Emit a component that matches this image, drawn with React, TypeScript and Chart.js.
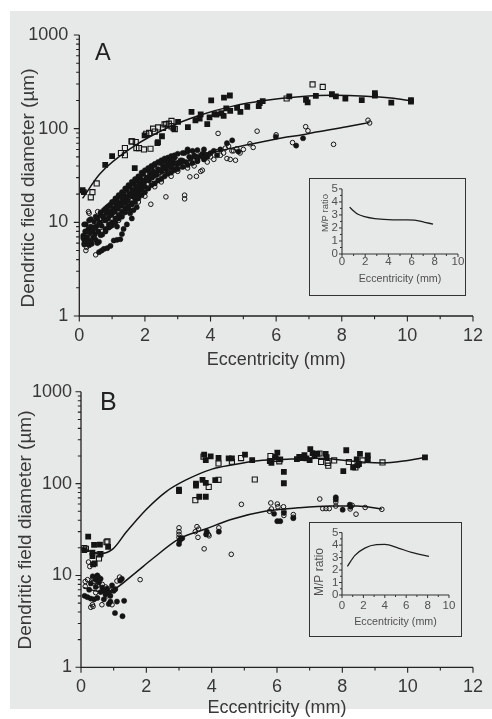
import React, { useEffect, useRef } from 'react';
import { Chart, registerables } from 'chart.js';
Chart.register(...registerables);

type P = [number, number];

// ---------------- Panel A data ----------------
const aFilledSquares: P[] = [
  [0.10, 22], [0.14, 21], [0.79, 41], [1.0, 51], [1.69, 38], [1.99, 85], [2.38, 70], [2.40, 72], [2.52, 83],
  [2.87, 101], [3.01, 118], [3.31, 104], [3.42, 151], [3.54, 123], [3.67, 128], [3.70, 142], [3.90, 112],
  [3.97, 132], [4.02, 200], [4.12, 143], [4.18, 141], [4.33, 146], [4.40, 137], [4.41, 215], [4.48, 165],
  [4.59, 226], [4.60, 155], [4.81, 167], [4.91, 151], [5.12, 171], [5.47, 174], [5.50, 188], [5.59, 197],
  [6.40, 221], [6.91, 203], [6.96, 191], [7.21, 224], [7.70, 233], [7.82, 221], [8.11, 210], [8.61, 202],
  [9.01, 240], [9.01, 225], [9.51, 190], [10.11, 202], [10.11, 195],
];
const aOpenSquares: P[] = [
  [0.40, 21], [0.35, 18.5], [0.53, 26], [1.27, 55], [1.39, 62], [1.39, 52], [1.59, 73], [1.61, 73], [1.72, 72],
  [1.74, 62], [1.82, 62], [1.97, 60], [2.04, 88], [2.13, 90], [2.17, 61], [2.25, 100], [2.30, 93], [2.40, 103],
  [2.55, 102], [2.60, 111], [2.65, 112], [2.73, 113], [2.81, 121], [2.81, 106], [2.91, 99], [6.32, 210],
  [7.11, 297], [7.42, 279],
];
const aFilledCircles: P[] = [
  [0.12, 7.2], [0.15, 6.5], [0.18, 8.0], [0.2, 9.5], [0.22, 7.0], [0.25, 6.0], [0.28, 8.5], [0.3, 10.5],
  [0.32, 7.8], [0.35, 9.0], [0.12, 6.8], [0.28, 6.5], [0.4, 8.2], [0.42, 6.9], [0.45, 10.2], [0.48, 7.5],
  [0.5, 9.0], [0.55, 11], [0.58, 8.0], [0.6, 6.2], [0.62, 10], [0.65, 12], [0.68, 9.2], [0.7, 7.4],
  [0.72, 11.5], [0.75, 13.5], [0.78, 10.5], [0.8, 8.5], [0.82, 12.5], [0.85, 14.5], [0.88, 11], [0.9, 9.5],
  [0.92, 13], [0.95, 15.5], [0.98, 12], [1.0, 10], [1.02, 14], [1.05, 16.5], [1.08, 13], [1.1, 11],
  [1.12, 15], [1.15, 17.5], [1.18, 14], [1.2, 12], [1.22, 16], [1.25, 19], [1.28, 15], [1.3, 13],
  [1.32, 17.5], [1.35, 20], [1.38, 16], [1.4, 14], [1.42, 18.5], [1.45, 22], [1.48, 17], [1.5, 15],
  [1.52, 20], [1.55, 24], [1.58, 19], [1.6, 16], [1.62, 22], [1.65, 26], [1.68, 20], [1.7, 18],
  [1.72, 24], [1.75, 28], [1.78, 22], [1.8, 20], [1.82, 26], [1.85, 30], [1.88, 24], [1.9, 22],
  [1.92, 28], [1.95, 33], [1.98, 27], [2.0, 24], [2.05, 30], [2.1, 36], [2.12, 28], [2.15, 33],
  [2.2, 39], [2.22, 30], [2.25, 35], [2.3, 41], [2.35, 32], [2.4, 37], [2.45, 43], [2.5, 35],
  [2.55, 40], [2.6, 45], [2.65, 37], [2.7, 42], [2.75, 47], [2.8, 39], [2.85, 44], [2.9, 49],
  [3.0, 42], [3.1, 46], [3.2, 55], [3.25, 44], [3.35, 50], [3.5, 52], [3.6, 47], [3.75, 54],
  [3.9, 50], [4.1, 58], [4.3, 60], [4.66, 75], [5.99, 82], [6.61, 66], [6.82, 79], [4.85, 57],
  [0.6, 4.8], [0.68, 5.0], [0.75, 5.2], [0.85, 5.3], [0.95, 5.6], [1.05, 6.4], [1.15, 6.5], [1.25, 6.6],
  [0.3, 5.7], [0.38, 5.9], [1.35, 8.5], [1.45, 9.5], [1.3, 7.5], [0.55, 6.0], [0.2, 5.9], [1.15, 9.0],
  [1.55, 12.5], [1.65, 13.5], [1.75, 14.5], [1.6, 11], [4.5, 70], [4.0, 55], [4.2, 52], [3.3, 60],
  // upper and lower edges of the dense band
  [0.15, 9.5], [0.15, 5.8], [0.35, 10.8], [0.35, 6.2], [0.5, 11.5], [0.5, 6.5], [0.65, 12.8], [0.65, 7.3],
  [0.8, 14], [0.8, 8], [0.9, 15], [0.9, 8.8], [1.0, 16.5], [1.0, 9.3], [1.1, 18], [1.1, 10],
  [1.2, 19.5], [1.2, 11], [1.3, 21], [1.3, 11.5], [1.4, 23], [1.4, 12.8], [1.5, 25], [1.5, 14],
  [1.6, 27], [1.6, 15.5], [1.7, 29], [1.7, 16.5], [1.8, 31], [1.8, 18], [1.9, 34], [1.9, 19.5],
  [2.0, 36], [2.0, 21], [2.1, 38], [2.1, 23], [2.2, 40], [2.2, 25], [2.3, 42], [2.3, 26],
  [2.4, 44], [2.4, 28], [2.5, 46], [2.5, 29], [2.6, 48], [2.6, 31], [2.7, 49], [2.7, 33],
  [2.8, 51], [2.8, 34], [2.9, 52], [2.9, 36], [3.0, 54], [3.0, 37], [3.15, 55], [3.15, 39],
  [3.3, 57], [3.3, 41], [3.45, 58], [3.45, 43], [3.6, 59], [3.6, 45], [3.8, 60], [3.8, 47],
  // band centre
  [0.25, 8], [0.45, 8.8], [0.6, 9.5], [0.75, 11], [0.95, 12], [1.05, 13], [1.15, 14.5], [1.25, 15.5],
  [1.35, 17], [1.45, 18.5], [1.55, 20], [1.65, 21.5], [1.75, 23], [1.85, 25], [1.95, 27], [2.05, 29],
  [2.15, 31], [2.25, 32.5], [2.35, 34], [2.45, 36], [2.55, 37.5], [2.65, 39], [2.75, 40.5], [2.85, 42],
  [2.95, 43], [3.05, 44], [3.15, 45.5], [3.4, 48], [3.55, 50], [3.7, 51], [3.85, 53],
];
const aOpenCircles: P[] = [
  [0.15, 6.0], [0.2, 5.0], [0.22, 5.4], [0.3, 12.5], [0.28, 13.0], [0.56, 13], [0.5, 4.5], [0.25, 7.5],
  [0.35, 8.0], [0.45, 7.0], [0.6, 9.5], [0.7, 8.0], [0.8, 10.5], [0.95, 9.0], [1.0, 12.5], [1.1, 14],
  [1.2, 10.5], [1.3, 12], [1.4, 15.5], [1.5, 13.5], [1.6, 17], [1.7, 19], [1.8, 16.5], [1.9, 21],
  [2.0, 19], [2.1, 23], [2.18, 15.6], [2.2, 26], [2.3, 24], [2.4, 30], [2.5, 27], [2.55, 32],
  [2.64, 18.7], [2.7, 34], [2.8, 31], [2.9, 37], [3.0, 35], [3.1, 40], [3.21, 19.5], [3.21, 17.8],
  [3.3, 38], [3.37, 30.6], [3.4, 43], [3.5, 40], [3.57, 31], [3.6, 45], [3.7, 35], [3.75, 36],
  [3.8, 48], [3.9, 44], [4.0, 50], [4.1, 47], [4.23, 89], [4.2, 57], [4.3, 52], [4.4, 55],
  [4.5, 48], [4.6, 47], [4.7, 58], [4.76, 46], [4.8, 61], [4.9, 55], [5.0, 60], [5.2, 69],
  [5.3, 63], [5.42, 94], [6.0, 86], [6.5, 71], [6.9, 105], [6.97, 95], [7.75, 68], [8.8, 123],
  [8.85, 115], [4.45, 62], [4.55, 65], [4.65, 58], [3.95, 53], [3.65, 51], [2.95, 47], [2.6, 41],
  [2.3, 36], [2.0, 30], [1.75, 25], [1.45, 20], [1.2, 16], [0.9, 12], [0.65, 11],
];
const aUpperCurve: P[] = [
  [0.1, 18], [0.63, 33], [1.64, 64], [2.66, 101], [3.67, 139], [4.68, 174], [5.7, 201], [6.71, 219],
  [7.72, 227], [8.74, 222], [9.5, 212], [10.15, 197],
];
const aLowerCurve: P[] = [
  [0.1, 6], [1.0, 12.5], [2.0, 26], [3.0, 40], [3.67, 52], [4.18, 57], [5.19, 68], [6.2, 80],
  [6.81, 86], [7.22, 92], [8.23, 106], [8.84, 116],
];
const aInsetCurve: P[] = [
  [0.66, 3.6], [1.0, 3.3], [1.38, 3.05], [1.95, 2.875], [2.82, 2.72], [3.97, 2.64], [5.4, 2.62],
  [6.26, 2.6], [7.13, 2.43], [7.85, 2.3],
];

// ---------------- Panel B data ----------------
const bFilledSquares: P[] = [
  [0.22, 26.5], [0.40, 21.5], [0.58, 21.7], [0.35, 17.7], [0.35, 16.3], [0.37, 13.2], [0.42, 13.5],
  [0.6, 17.2], [0.83, 20.5], [0.1, 18.9], [3.0, 83], [3.0, 86], [3.52, 100], [3.52, 95], [3.72, 110],
  [3.82, 102], [3.62, 72], [3.82, 72], [4.11, 109], [3.77, 207], [3.82, 180], [3.97, 198], [4.21, 191],
  [4.52, 188], [4.62, 188], [5.02, 207], [5.24, 180], [5.78, 176], [5.83, 168], [6.01, 218], [5.95, 196],
  [6.1, 184], [6.21, 134], [6.21, 101], [6.61, 185], [6.68, 195], [6.75, 190], [6.84, 204], [6.9, 188],
  [7.0, 180], [7.02, 238], [7.09, 215], [7.15, 200], [7.24, 211], [7.49, 211], [7.52, 194], [8.03, 137],
  [8.12, 231], [8.33, 150], [8.44, 184], [8.46, 158], [8.51, 163], [8.54, 211], [8.78, 203], [8.78, 184],
  [10.53, 193],
];
const bOpenSquares: P[] = [
  [0.1, 19.9], [0.15, 19.5], [0.55, 15.3], [0.57, 17], [0.78, 23], [0.81, 23.5], [3.5, 66], [3.91, 92],
  [3.75, 197], [4.21, 166], [4.21, 110], [4.62, 173], [4.9, 190], [5.32, 111], [5.8, 200], [5.95, 186],
  [6.07, 175], [7.3, 213], [7.35, 172], [7.55, 168], [7.57, 157], [7.75, 179], [8.2, 172], [8.4, 150],
  [8.62, 179], [9.23, 170],
];
const bFilledCircles: P[] = [
  [0.11, 6.0], [0.2, 5.8], [0.3, 5.6], [0.4, 5.5], [0.5, 5.7], [0.3, 8.2], [0.36, 9.8], [0.45, 9.0],
  [0.5, 10], [0.55, 8.4], [0.65, 7.4], [0.7, 6.8], [0.75, 6.2], [0.8, 7.2], [0.85, 6.5], [0.9, 6.0],
  [1.0, 6.8], [1.05, 7.1], [0.6, 6.6], [0.45, 7.5], [0.25, 7.0], [1.1, 5.2], [1.32, 5.3], [1.04, 3.9],
  [1.27, 3.6], [1.2, 8.8], [1.25, 9.2], [0.85, 4.9], [0.9, 5.2], [0.7, 5.5], [0.95, 7.8], [0.6, 9.2],
  [3.02, 24], [3.05, 25], [3.1, 25.5], [3.0, 22], [3.83, 28], [3.85, 30], [4.22, 30], [5.91, 47],
  [6.01, 39], [6.1, 39], [6.21, 48], [6.5, 42], [7.8, 71], [7.8, 67], [8.01, 52], [8.23, 59], [8.25, 56],
];
const bOpenCircles: P[] = [
  [0.23, 14], [0.27, 12.5], [0.13, 8.6], [0.13, 7.6], [0.36, 9.3], [0.4, 8.6], [0.5, 7.8], [0.3, 4.5],
  [0.35, 4.8], [0.37, 4.6], [0.64, 4.8], [0.95, 4.8], [1.81, 9], [1.1, 8.7], [1.18, 9.6], [0.2, 9.0],
  [0.55, 9.5], [0.65, 8.0], [0.75, 7.5], [0.8, 6.0], [0.45, 6.5], [0.9, 6.8], [3.0, 33], [3.0, 30],
  [3.0, 28], [3.0, 26], [3.5, 30], [3.55, 34], [3.6, 32], [3.58, 26], [3.77, 19.5], [3.9, 28],
  [3.92, 27], [4.22, 33], [4.6, 17], [4.91, 59.5], [5.77, 50], [5.81, 61.6], [5.83, 53], [6.01, 60],
  [6.03, 56], [6.2, 56], [6.21, 50], [6.21, 45], [6.5, 46], [6.5, 43], [7.31, 68], [7.4, 53.5],
  [7.5, 53.5], [7.6, 53.5], [7.8, 63], [7.8, 57], [8.24, 53], [8.3, 58], [8.42, 46.5], [8.7, 55],
  [9.21, 52.5],
];
const bUpperCurve: P[] = [
  [0.07, 19.5], [0.58, 17.3], [0.98, 19.5], [1.38, 29.5], [1.99, 52], [2.6, 81.5], [3.2, 109],
  [4.01, 144], [4.62, 160], [5.42, 178], [6.43, 185], [7.24, 189], [8.15, 178], [8.67, 171],
  [9.26, 168], [9.87, 176], [10.53, 193],
];
const bLowerCurve: P[] = [
  [0.07, 7.4], [0.58, 6.7], [0.98, 7.0], [1.58, 10.1], [2.19, 15.2], [3.0, 25], [3.81, 32], [4.62, 41],
  [5.63, 50], [6.64, 54.5], [7.65, 57], [8.45, 57], [9.21, 53],
];
const bInsetCurve: P[] = [
  [0.5, 2.29], [1.19, 3.16], [2.13, 3.76], [3.22, 4.03], [4.0, 4.05], [5.25, 3.76], [6.5, 3.42], [8.13, 3.1],
];

// ---------------- tick labels ----------------
const yDecades = [1, 10, 100, 1000];
const mainXMajor = [0, 2, 4, 6, 8, 10, 12];
const mainXMinor = [1, 3, 5, 7, 9, 11];
const insetXMajor = [0, 2, 4, 6, 8, 10];
const insetXMinor = [1, 3, 5, 7, 9];
const insetYMajor = [0, 1, 2, 3, 4, 5];
const insetYMinor = [0.5, 1.5, 2.5, 3.5, 4.5];

const FONT = '"Liberation Sans", Arial, Helvetica, sans-serif';
const INK = '#141414';
const TEXT = '#383838';
const INSET_TEXT = '#505050';

const pts = (a: P[]) => a.map(([x, y]) => ({ x, y }));

function logMinors(): number[] {
  const out: number[] = [];
  for (const d of [1, 10, 100]) for (let k = 2; k <= 9; k++) out.push(k * d);
  return out;
}

function decoPlugin(o: any) {
  return {
    id: 'deco',
    afterDraw(chart: any) {
      const { ctx, chartArea } = chart;
      const xs = chart.scales.x;
      const ys = chart.scales.y;
      const L = chartArea.left, R = chartArea.right, T = chartArea.top, B = chartArea.bottom;
      ctx.save();
      ctx.strokeStyle = o.axisColor;
      ctx.lineWidth = o.axisWidth;
      ctx.beginPath();
      ctx.moveTo(L, T);
      ctx.lineTo(L, B);
      ctx.lineTo(R, B);
      ctx.stroke();
      ctx.lineWidth = o.tickWidth;
      ctx.beginPath();
      for (const v of o.xMajor) { const px = xs.getPixelForValue(v); ctx.moveTo(px, B); ctx.lineTo(px, B + o.majorLen); }
      for (const v of o.xMinor) { const px = xs.getPixelForValue(v); ctx.moveTo(px, B); ctx.lineTo(px, B + o.minorLen); }
      for (const v of o.yMajor) { const py = ys.getPixelForValue(v); ctx.moveTo(L, py); ctx.lineTo(L - o.majorLen, py); }
      for (const v of o.yMinor) { const py = ys.getPixelForValue(v); ctx.moveTo(L, py); ctx.lineTo(L - o.minorLen, py); }
      ctx.stroke();
      ctx.fillStyle = o.textColor;
      if (o.yTitle) {
        ctx.save();
        ctx.translate(o.yTitle.x, o.yTitle.y);
        ctx.rotate(-Math.PI / 2);
        ctx.font = `${o.yTitle.size}px ${FONT}`;
        ctx.textAlign = 'center';
        ctx.textBaseline = 'middle';
        ctx.fillText(o.yTitle.text, 0, 0);
        ctx.restore();
      }
      if (o.letter) {
        ctx.font = `${o.letter.size}px ${FONT}`;
        ctx.textAlign = 'left';
        ctx.textBaseline = 'alphabetic';
        ctx.fillStyle = '#222';
        ctx.fillText(o.letter.text, o.letter.x, o.letter.y);
      }
      ctx.restore();
    },
  };
}

function scatterSets(fSq: P[], oSq: P[], fC: P[], oC: P[], c1: P[], c2: P[]) {
  const curve = (d: P[]) => ({
    data: pts(d), showLine: true, pointRadius: 0, borderColor: INK, borderWidth: 1.5,
    cubicInterpolationMode: 'monotone', tension: 0.4, fill: false,
  });
  return [
    { data: pts(fSq), pointStyle: 'rect', pointRadius: 4.1, backgroundColor: INK, borderColor: INK, borderWidth: 0 },
    { data: pts(fC), pointStyle: 'circle', pointRadius: 2.6, backgroundColor: INK, borderColor: INK, borderWidth: 0.5 },
    { data: pts(oSq), pointStyle: 'rect', pointRadius: 3.6, backgroundColor: 'rgba(0,0,0,0)', borderColor: INK, borderWidth: 1.1 },
    { data: pts(oC), pointStyle: 'circle', pointRadius: 2.3, backgroundColor: 'rgba(0,0,0,0)', borderColor: INK, borderWidth: 1 },
    curve(c1),
    curve(c2),
  ];
}

function mainOptions(p: any) {
  const f = { family: FONT, size: 18 };
  return {
    responsive: false,
    animation: false,
    devicePixelRatio: 1,
    layout: { padding: { left: 0, right: p.padRight, top: p.padTop, bottom: 0 } },
    plugins: { legend: { display: false }, tooltip: { enabled: false } },
    elements: { point: { hoverRadius: 0 } },
    scales: {
      x: {
        type: 'linear', min: 0, max: 12, offset: false,
        grid: { display: false, drawTicks: false }, border: { display: false },
        ticks: { stepSize: 2, padding: p.tickPad, font: f, color: TEXT, maxRotation: 0, autoSkip: false },
        title: { display: true, text: 'Eccentricity (mm)', font: f, color: TEXT, padding: { top: 0, bottom: p.xTitleBottom } },
        afterFit: (s: any) => { s.height = p.xHeight; },
      },
      y: {
        type: 'logarithmic', min: 1, max: 1000,
        grid: { display: false, drawTicks: false }, border: { display: false },
        ticks: {
          autoSkip: false, padding: p.yTickPad, font: f, color: TEXT,
          callback: (v: number) => {
            const d = yDecades.find((q) => Math.abs(q - v) < q * 1e-6);
            return d !== undefined ? String(d) : '';
          },
        },
        afterFit: (s: any) => { s.width = p.yWidth; },
      },
    },
  };
}

function insetOptions(p: any) {
  const f = { family: FONT, size: p.tickSize };
  return {
    responsive: false,
    animation: false,
    devicePixelRatio: 1,
    layout: { padding: { left: 0, right: p.padRight, top: p.padTop, bottom: 0 } },
    plugins: { legend: { display: false }, tooltip: { enabled: false } },
    scales: {
      x: {
        type: 'linear', min: 0, max: 10, offset: false,
        grid: { display: false, drawTicks: false }, border: { display: false },
        ticks: { stepSize: 2, padding: p.tickPad, font: f, color: INSET_TEXT, maxRotation: 0, autoSkip: false },
        title: { display: true, text: 'Eccentricity (mm)', font: { family: FONT, size: 10.7 }, color: INSET_TEXT, padding: { top: 0, bottom: p.xTitleBottom } },
        afterFit: (s: any) => { s.height = p.xHeight; },
      },
      y: {
        type: 'linear', min: 0, max: 5,
        grid: { display: false, drawTicks: false }, border: { display: false },
        ticks: { stepSize: 1, padding: p.yTickPad, font: f, color: INSET_TEXT, autoSkip: false },
        afterFit: (s: any) => { s.width = p.yWidth; },
      },
    },
  };
}

function useChart(ref: React.RefObject<HTMLCanvasElement>, make: (c: HTMLCanvasElement) => Chart) {
  useEffect(() => {
    if (!ref.current) return;
    const ch = make(ref.current);
    return () => ch.destroy();
  }, []);
}

export default function App() {
  const aRef = useRef<HTMLCanvasElement>(null);
  const bRef = useRef<HTMLCanvasElement>(null);
  const aiRef = useRef<HTMLCanvasElement>(null);
  const biRef = useRef<HTMLCanvasElement>(null);

  useChart(aRef, (c) => new Chart(c, {
    type: 'scatter',
    data: { datasets: scatterSets(aFilledSquares, aOpenSquares, aFilledCircles, aOpenCircles, aUpperCurve, aLowerCurve) as any },
    options: mainOptions({ padTop: 35, padRight: 17.7, yWidth: 79.3, xHeight: 56, xTitleBottom: 1.2, tickPad: 9, yTickPad: 11 }) as any,
    plugins: [decoPlugin({
      axisColor: '#222', axisWidth: 1.3, tickWidth: 1.1, majorLen: 5.5, minorLen: 3.2, textColor: TEXT,
      xMajor: mainXMajor, xMinor: mainXMinor, yMajor: yDecades, yMinor: logMinors(),
      yTitle: { text: 'Dendritic field diameter (µm)', x: 29, y: 188, size: 19 },
      letter: { text: 'A', x: 95, y: 60, size: 23.5 },
    })],
  }));

  useChart(bRef, (c) => new Chart(c, {
    type: 'scatter',
    data: { datasets: scatterSets(bFilledSquares, bOpenSquares, bFilledCircles, bOpenCircles, bUpperCurve, bLowerCurve) as any },
    options: mainOptions({ padTop: 14.7, padRight: 14.7, yWidth: 81, xHeight: 51.7, xTitleBottom: 0.2, tickPad: 9, yTickPad: 9 }) as any,
    plugins: [decoPlugin({
      axisColor: '#222', axisWidth: 1.3, tickWidth: 1.1, majorLen: 5.5, minorLen: 3.2, textColor: TEXT,
      xMajor: mainXMajor, xMinor: mainXMinor, yMajor: yDecades, yMinor: logMinors(),
      yTitle: { text: 'Dendritic field diameter (µm)', x: 26, y: 158, size: 19 },
      letter: { text: 'B', x: 100, y: 38, size: 25 },
    })],
  }));

  const insetSet = (d: P[]) => [{
    data: pts(d), showLine: true, pointRadius: 0, borderColor: '#1e1e1e', borderWidth: 1.3,
    cubicInterpolationMode: 'monotone', fill: false,
  }];

  useChart(aiRef, (c) => new Chart(c, {
    type: 'scatter',
    data: { datasets: insetSet(aInsetCurve) as any },
    options: insetOptions({ padTop: 10, padRight: 8, yWidth: 33, xHeight: 42, tickPad: 1.4, yTickPad: 4, xTitleBottom: 10.4, tickSize: 11.5 }) as any,
    plugins: [decoPlugin({
      axisColor: '#333', axisWidth: 1.1, tickWidth: 1, majorLen: 3, minorLen: 2, textColor: INSET_TEXT,
      xMajor: insetXMajor, xMinor: insetXMinor, yMajor: insetYMajor, yMinor: insetYMinor,
      yTitle: { text: 'M/P ratio', x: 16.7, y: 35, size: 9.5 },
    })],
  }));

  useChart(biRef, (c) => new Chart(c, {
    type: 'scatter',
    data: { datasets: insetSet(bInsetCurve) as any },
    options: insetOptions({ padTop: 10, padRight: 13, yWidth: 33, xHeight: 42, tickPad: 3.8, yTickPad: 3.7, xTitleBottom: 8.4, tickSize: 11.5 }) as any,
    plugins: [decoPlugin({
      axisColor: '#333', axisWidth: 1.1, tickWidth: 1, majorLen: 3, minorLen: 2, textColor: INSET_TEXT,
      xMajor: insetXMajor, xMinor: insetXMinor, yMajor: insetYMajor, yMinor: insetYMinor,
      yTitle: { text: 'M/P ratio', x: 11, y: 50, size: 12 },
    })],
  }));

  const abs = (l: number, t: number, w: number, h: number): React.CSSProperties => ({
    position: 'absolute', left: l, top: t, width: w, height: h,
  });

  return (
    <div style={{ position: 'relative', width: 492, height: 719, background: '#fff', overflow: 'hidden' }}>
      <style>{'body{margin:0}'}</style>
      <div style={{ ...abs(10, 11, 482, 698), background: '#e7e8e8' }} />
      <canvas ref={aRef} width={492} height={372} style={abs(0, 0, 492, 372)} />
      <canvas ref={bRef} width={492} height={347} style={abs(0, 372, 492, 347)} />
      <div style={{ ...abs(309, 178, 157, 118), border: '1.5px solid #333', boxSizing: 'border-box' }} />
      <canvas ref={aiRef} width={157} height={118} style={abs(309, 178, 157, 118)} />
      <div style={{ ...abs(309, 522, 153, 115), border: '1.5px solid #333', boxSizing: 'border-box' }} />
      <canvas ref={biRef} width={153} height={115} style={abs(309, 522, 153, 115)} />
    </div>
  );
}
